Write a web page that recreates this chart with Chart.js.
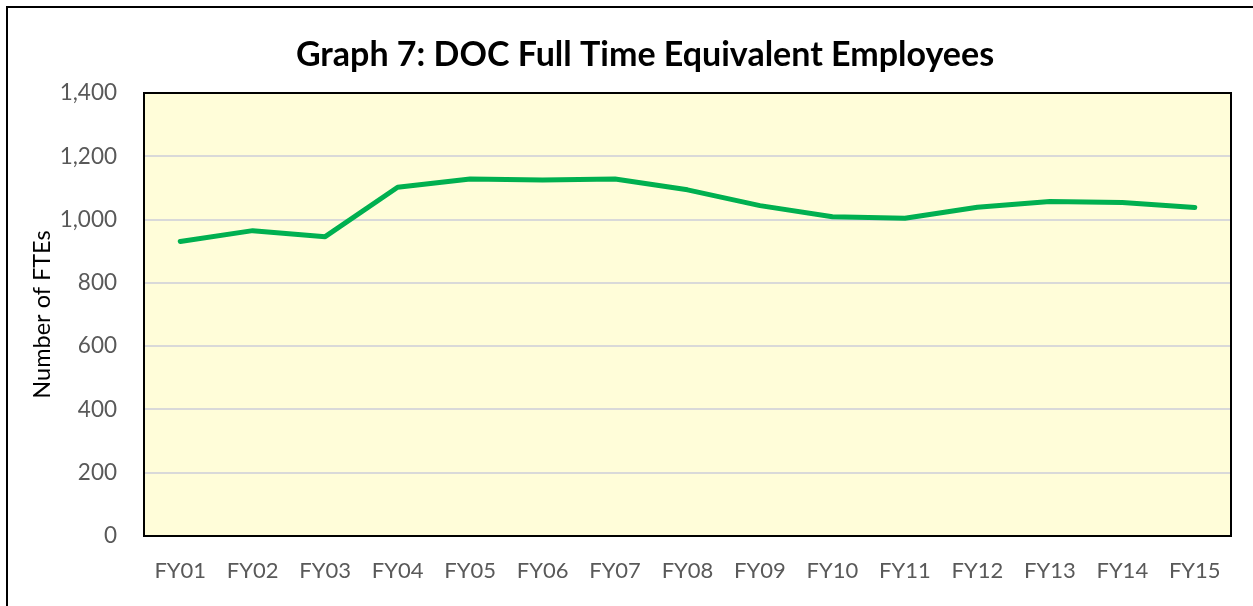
<!DOCTYPE html>
<html><head><meta charset="utf-8">
<script src="https://cdn.jsdelivr.net/npm/chart.js@4.4.0/dist/chart.umd.min.js"></script>
<style>html,body{margin:0;padding:0;background:#fff;}#wrap{width:1253px;height:606px;position:relative;}canvas{display:block;}</style>
</head><body><div id="wrap"><canvas id="c" width="1253" height="606"></canvas></div>
<script>
const categories = ['FY01','FY02','FY03','FY04','FY05','FY06','FY07','FY08','FY09','FY10','FY11','FY12','FY13','FY14','FY15'];
const fteValues = [931, 965, 946, 1102, 1128, 1125, 1128, 1094, 1044, 1009, 1004, 1039, 1057, 1054, 1038];
const yTickValues = [0, 200, 400, 600, 800, 1000, 1200, 1400];
const titleText = 'Graph 7: DOC Full Time Equivalent Employees';
const yAxisTitle = 'Number of FTEs';

const frame = {
  id: 'frame',
  beforeDraw(chart) {
    const {ctx, chartArea: a} = chart;
    ctx.save();
    ctx.fillStyle = '#fffdd9';
    ctx.fillRect(a.left, a.top, a.right - a.left, a.bottom - a.top);
    ctx.strokeStyle = '#000';
    ctx.lineWidth = 2;
    ctx.strokeRect(7, 7, 1270, 620);
    ctx.fillStyle = '#000';
    ctx.font = 'bold 34px Lato';
    ctx.textAlign = 'center';
    ctx.textBaseline = 'alphabetic';
    ctx.fillText(titleText, 645, 66);
    ctx.restore();
  },
  afterDatasetsDraw(chart) {
    const {ctx, chartArea: a} = chart;
    ctx.save();
    ctx.strokeStyle = '#000';
    ctx.lineWidth = 2;
    ctx.strokeRect(a.left, a.top, a.right - a.left, a.bottom - a.top);
    ctx.restore();
  }
};

new Chart(document.getElementById('c'), {
  type: 'line',
  data: {
    labels: categories,
    datasets: [{
      data: fteValues,
      borderColor: '#00b050',
      borderWidth: 5,
      pointRadius: 0,
      tension: 0,
      fill: false,
      borderCapStyle: 'round',
      borderJoinStyle: 'round'
    }]
  },
  options: {
    responsive: false,
    animation: false,
    devicePixelRatio: 1,
    layout: { padding: { left: 8, right: 22, top: 93, bottom: 0 } },
    plugins: {
      legend: { display: false },
      tooltip: { enabled: false },
      title: { display: false }
    },
    scales: {
      x: {
        offset: true,
        grid: { display: false, drawTicks: false, offset: true },
        border: { display: false },
        ticks: { color: '#595959', font: { family: 'Lato', size: 22 }, padding: 22, maxRotation: 0, autoSkip: false },
        afterFit(s) { s.height = 70; }
      },
      y: {
        min: 0, max: 1400,
        afterBuildTicks(s) { s.ticks = yTickValues.map(v => ({ value: v })); },
        grid: { color: '#d9d9d9', lineWidth: 2, drawTicks: false },
        border: { display: false },
        ticks: {
          color: '#595959', font: { family: 'Lato', size: 22.5 }, padding: 27,
          callback: v => v.toLocaleString('en-US')
        },
        title: {
          display: true, text: yAxisTitle, color: '#000',
          font: { family: 'Lato', size: 23.5 }, padding: { top: 20, bottom: 0 }
        },
        afterFit(s) { s.width = 136; }
      }
    }
  },
  plugins: [frame]
});
</script></body></html>
